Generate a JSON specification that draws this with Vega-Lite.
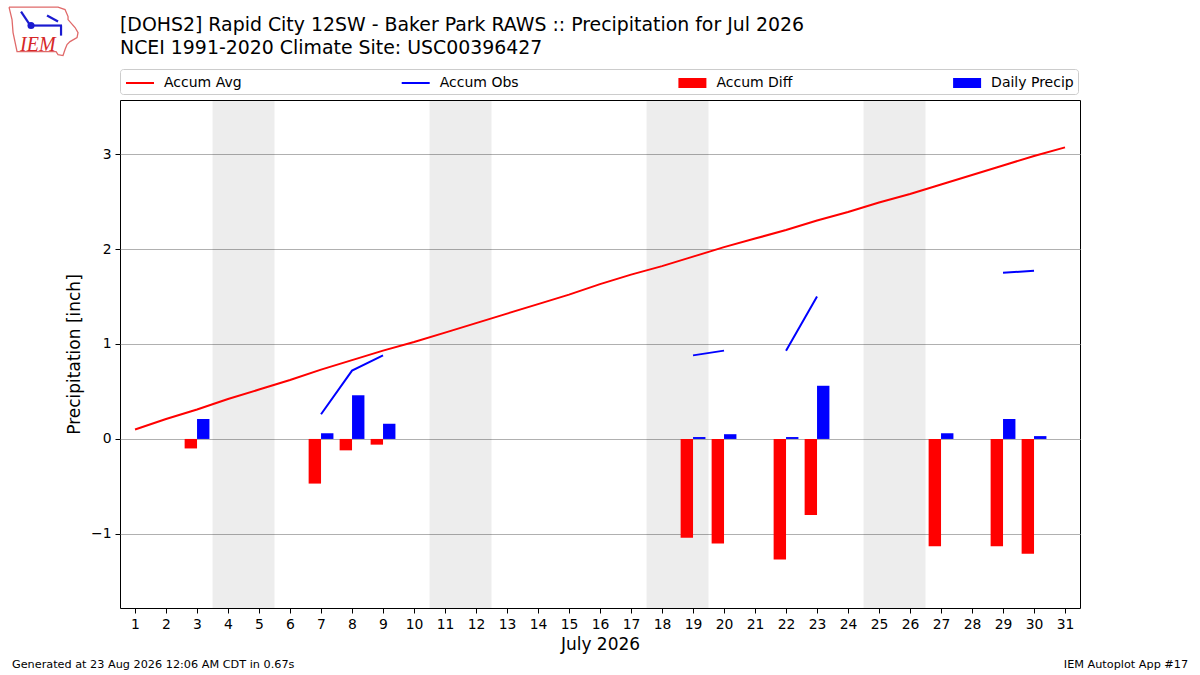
{
  "$schema": "https://vega.github.io/schema/vega-lite/v6.json",
  "width": 960,
  "height": 508,
  "autosize": "none",
  "padding": {"left": 120, "top": 100, "right": 120, "bottom": 67},
  "background": "white",
  "title": {
    "text": ["[DOHS2] Rapid City 12SW - Baker Park RAWS :: Precipitation for Jul 2026", "NCEI 1991-2020 Climate Site: USC00396427"],
    "anchor": "start",
    "frame": "group",
    "font": "DejaVu Sans",
    "fontSize": 18.9,
    "fontWeight": "normal",
    "lineHeight": 23,
    "color": "#000",
    "offset": -53
  },
  "config": {
    "font": "DejaVu Sans",
    "view": {"stroke": "#000", "strokeWidth": 1},
    "axis": {
      "titleFontSize": 17,
      "titleFontWeight": "normal",
      "titleColor": "#000",
      "labelFontSize": 13.9,
      "labelColor": "#000",
      "labelPadding": 4,
      "labelOverlap": false,
      "labelFlush": false,
      "tickColor": "#000",
      "tickSize": 5,
      "domain": false,
      "format": "d"
    },
    "axisX": {"tickCount": 31, "titlePadding": 6, "grid": false},
    "axisY": {"tickCount": 5, "titlePadding": 7, "grid": true, "gridColor": "#b0b0b0", "gridWidth": 1}
  },
  "datasets": {
    "days": [
      {"day": 1, "avg": 0.10, "obs": null, "diff": null, "precip": null},
      {"day": 2, "avg": 0.21, "obs": null, "diff": null, "precip": null},
      {"day": 3, "avg": 0.31, "obs": null, "diff": -0.10, "precip": 0.21},
      {"day": 4, "avg": 0.42, "obs": null, "diff": null, "precip": null},
      {"day": 5, "avg": 0.52, "obs": null, "diff": null, "precip": null},
      {"day": 6, "avg": 0.62, "obs": null, "diff": null, "precip": null},
      {"day": 7, "avg": 0.73, "obs": 0.26, "diff": -0.47, "precip": 0.06},
      {"day": 8, "avg": 0.83, "obs": 0.72, "diff": -0.12, "precip": 0.46},
      {"day": 9, "avg": 0.93, "obs": 0.88, "diff": -0.06, "precip": 0.16},
      {"day": 10, "avg": 1.02, "obs": null, "diff": null, "precip": null},
      {"day": 11, "avg": 1.12, "obs": null, "diff": null, "precip": null},
      {"day": 12, "avg": 1.22, "obs": null, "diff": null, "precip": null},
      {"day": 13, "avg": 1.32, "obs": null, "diff": null, "precip": null},
      {"day": 14, "avg": 1.42, "obs": null, "diff": null, "precip": null},
      {"day": 15, "avg": 1.52, "obs": null, "diff": null, "precip": null},
      {"day": 16, "avg": 1.63, "obs": null, "diff": null, "precip": null},
      {"day": 17, "avg": 1.73, "obs": null, "diff": null, "precip": null},
      {"day": 18, "avg": 1.82, "obs": null, "diff": null, "precip": null},
      {"day": 19, "avg": 1.92, "obs": 0.88, "diff": -1.04, "precip": 0.02},
      {"day": 20, "avg": 2.02, "obs": 0.93, "diff": -1.10, "precip": 0.05},
      {"day": 21, "avg": 2.11, "obs": null, "diff": null, "precip": null},
      {"day": 22, "avg": 2.20, "obs": 0.93, "diff": -1.27, "precip": 0.02},
      {"day": 23, "avg": 2.30, "obs": 1.50, "diff": -0.80, "precip": 0.56},
      {"day": 24, "avg": 2.39, "obs": null, "diff": null, "precip": null},
      {"day": 25, "avg": 2.49, "obs": null, "diff": null, "precip": null},
      {"day": 26, "avg": 2.58, "obs": null, "diff": null, "precip": null},
      {"day": 27, "avg": 2.68, "obs": null, "diff": -1.13, "precip": 0.06},
      {"day": 28, "avg": 2.78, "obs": null, "diff": null, "precip": null},
      {"day": 29, "avg": 2.88, "obs": 1.75, "diff": -1.13, "precip": 0.21},
      {"day": 30, "avg": 2.98, "obs": 1.77, "diff": -1.21, "precip": 0.03},
      {"day": 31, "avg": 3.07, "obs": null, "diff": null, "precip": null}
    ],
    "weekends": [
      {"start": 3.5, "end": 5.5},
      {"start": 10.5, "end": 12.5},
      {"start": 17.5, "end": 19.5},
      {"start": 24.5, "end": 26.5}
    ],
    "series": [
      {"series": "Accum Avg"},
      {"series": "Accum Obs"},
      {"series": "Accum Diff"},
      {"series": "Daily Precip"}
    ],
    "logoOutline": [
      {"o": 0, "d": -3.065, "v": 4.547},
      {"o": 1, "d": -1.484, "v": 4.547},
      {"o": 2, "d": -1.258, "v": 4.521},
      {"o": 3, "d": -1.161, "v": 4.447},
      {"o": 4, "d": -1.161, "v": 4.416},
      {"o": 5, "d": -0.935, "v": 4.332},
      {"o": 6, "d": -0.839, "v": 4.279},
      {"o": 7, "d": -0.871, "v": 4.226},
      {"o": 8, "d": -1.097, "v": 4.184},
      {"o": 9, "d": -1.194, "v": 4.153},
      {"o": 10, "d": -1.258, "v": 4.100},
      {"o": 11, "d": -1.323, "v": 4.037},
      {"o": 12, "d": -1.484, "v": 4.047},
      {"o": 13, "d": -1.548, "v": 4.079},
      {"o": 14, "d": -2.806, "v": 4.079},
      {"o": 15, "d": -2.935, "v": 4.279},
      {"o": 16, "d": -2.968, "v": 4.416},
      {"o": 17, "d": -3.065, "v": 4.547}
    ],
    "logoStation": [
      {"part": "beam", "o": 0, "d": -2.355, "v": 4.353},
      {"part": "beam", "o": 1, "d": -1.355, "v": 4.353},
      {"part": "arm", "o": 0, "d": -2.677, "v": 4.5},
      {"part": "arm", "o": 1, "d": -2.419, "v": 4.374},
      {"part": "blade", "o": 0, "d": -1.839, "v": 4.458},
      {"part": "blade", "o": 1, "d": -1.484, "v": 4.395},
      {"part": "stem", "o": 0, "d": -1.387, "v": 4.353},
      {"part": "stem", "o": 1, "d": -1.387, "v": 4.247}
    ]
  },
  "layer": [
    {
      "data": {"name": "weekends"},
      "mark": {"type": "rect", "color": "#000", "opacity": 0.07},
      "encoding": {
        "x": {
          "field": "start",
          "type": "quantitative",
          "title": "July 2026",
          "scale": {"domain": [0.515, 31.483], "nice": false, "zero": false, "padding": 0}
        },
        "x2": {"field": "end"}
      }
    },
    {
      "data": {"name": "days"},
      "mark": {"type": "bar", "color": "#ff0000", "width": 12.4, "xOffset": -6.2},
      "encoding": {
        "x": {"field": "day", "type": "quantitative", "title": "July 2026"},
        "y": {
          "field": "diff",
          "type": "quantitative",
          "stack": null,
          "title": "Precipitation [inch]",
          "scale": {"domain": [-1.78, 3.569], "nice": false, "zero": false, "padding": 0}
        }
      }
    },
    {
      "data": {"name": "days"},
      "mark": {"type": "bar", "color": "#0000ff", "width": 12.4, "xOffset": 6.2},
      "encoding": {
        "x": {"field": "day", "type": "quantitative", "title": "July 2026"},
        "y": {"field": "precip", "type": "quantitative", "stack": null, "title": "Precipitation [inch]"}
      }
    },
    {
      "data": {"name": "days"},
      "mark": {"type": "line", "color": "#ff0000", "strokeWidth": 2},
      "encoding": {
        "x": {"field": "day", "type": "quantitative", "title": "July 2026"},
        "y": {"field": "avg", "type": "quantitative", "title": "Precipitation [inch]"}
      }
    },
    {
      "data": {"name": "days"},
      "mark": {"type": "line", "color": "#0000ff", "strokeWidth": 2},
      "encoding": {
        "x": {"field": "day", "type": "quantitative", "title": "July 2026"},
        "y": {"field": "obs", "type": "quantitative", "title": "Precipitation [inch]"}
      }
    },
    {
      "data": {"name": "series"},
      "mark": {"type": "point", "filled": true, "opacity": 0},
      "encoding": {
        "x": {"datum": 1, "type": "quantitative", "title": "July 2026"},
        "y": {"datum": 0, "type": "quantitative", "title": "Precipitation [inch]"},
        "color": {
          "field": "series",
          "type": "nominal",
          "scale": {
            "domain": ["Accum Avg", "Accum Obs", "Accum Diff", "Daily Precip"],
            "range": ["#ff0000", "#0000ff", "#ff0000", "#0000ff"]
          },
          "legend": {
            "title": null,
            "orient": "none",
            "legendX": 0,
            "legendY": -31,
            "columns": 4,
            "columnPadding": 157.7,
            "gridAlign": "each",
            "padding": 4,
            "strokeColor": "#cccccc",
            "cornerRadius": 3,
            "fillColor": "white",
            "symbolOpacity": 1,
            "symbolSize": 400,
            "symbolStrokeWidth": 0,
            "symbolOffset": 6,
            "labelFontSize": 14,
            "labelColor": "#000",
            "labelOffset": 14
          }
        },
        "shape": {
          "field": "series",
          "type": "nominal",
          "scale": {
            "domain": ["Accum Avg", "Accum Obs", "Accum Diff", "Daily Precip"],
            "range": ["M-1.4,-0.1H1.4V0.1H-1.4Z", "M-1.4,-0.1H1.4V0.1H-1.4Z", "M-1.4,-0.5H1.4V0.5H-1.4Z", "M-1.4,-0.5H1.4V0.5H-1.4Z"]
          },
          "legend": {
            "title": null,
            "orient": "none",
            "legendX": 0,
            "legendY": -31,
            "columns": 4,
            "columnPadding": 157.7,
            "gridAlign": "each",
            "padding": 4,
            "strokeColor": "#cccccc",
            "cornerRadius": 3,
            "fillColor": "white",
            "symbolOpacity": 1,
            "symbolSize": 400,
            "symbolStrokeWidth": 0,
            "symbolOffset": 6,
            "labelFontSize": 14,
            "labelColor": "#000",
            "labelOffset": 14
          }
        }
      }
    },
    {
      "data": {"values": [{"label": "Generated at 23 Aug 2026 12:06 AM CDT in 0.67s"}]},
      "mark": {"type": "text", "align": "left", "baseline": "middle", "fontSize": 11.25, "color": "#000"},
      "encoding": {
        "x": {"datum": -2.97, "type": "quantitative", "title": "July 2026"},
        "y": {"datum": -2.38, "type": "quantitative", "title": "Precipitation [inch]"},
        "text": {"field": "label"}
      }
    },
    {
      "data": {"values": [{"label": "IEM Autoplot App #17"}]},
      "mark": {"type": "text", "align": "right", "baseline": "middle", "fontSize": 11.25, "color": "#000"},
      "encoding": {
        "x": {"datum": 34.97, "type": "quantitative", "title": "July 2026"},
        "y": {"datum": -2.38, "type": "quantitative", "title": "Precipitation [inch]"},
        "text": {"field": "label"}
      }
    },
    {
      "data": {"name": "logoOutline"},
      "mark": {"type": "line", "color": "#e06a6a", "strokeWidth": 1.3},
      "encoding": {
        "x": {"field": "d", "type": "quantitative", "title": "July 2026"},
        "y": {"field": "v", "type": "quantitative", "title": "Precipitation [inch]"},
        "order": {"field": "o"}
      }
    },
    {
      "data": {"name": "logoStation"},
      "mark": {"type": "line", "color": "#1a1ad0", "strokeWidth": 2.2},
      "encoding": {
        "x": {"field": "d", "type": "quantitative", "title": "July 2026"},
        "y": {"field": "v", "type": "quantitative", "title": "Precipitation [inch]"},
        "detail": {"field": "part"},
        "order": {"field": "o"}
      }
    },
    {
      "data": {"values": [{"d": -2.355, "v": 4.353}]},
      "mark": {"type": "circle", "color": "#1a1ad0", "opacity": 1, "size": 50},
      "encoding": {
        "x": {"field": "d", "type": "quantitative", "title": "July 2026"},
        "y": {"field": "v", "type": "quantitative", "title": "Precipitation [inch]"}
      }
    },
    {
      "data": {"values": [{"label": "IEM"}]},
      "mark": {"type": "text", "align": "left", "baseline": "alphabetic", "font": "Liberation Serif", "fontStyle": "italic", "fontSize": 20, "color": "#d62728"},
      "encoding": {
        "x": {"datum": -2.71, "type": "quantitative", "title": "July 2026"},
        "y": {"datum": 4.09, "type": "quantitative", "title": "Precipitation [inch]"},
        "text": {"field": "label"}
      }
    }
  ]
}
